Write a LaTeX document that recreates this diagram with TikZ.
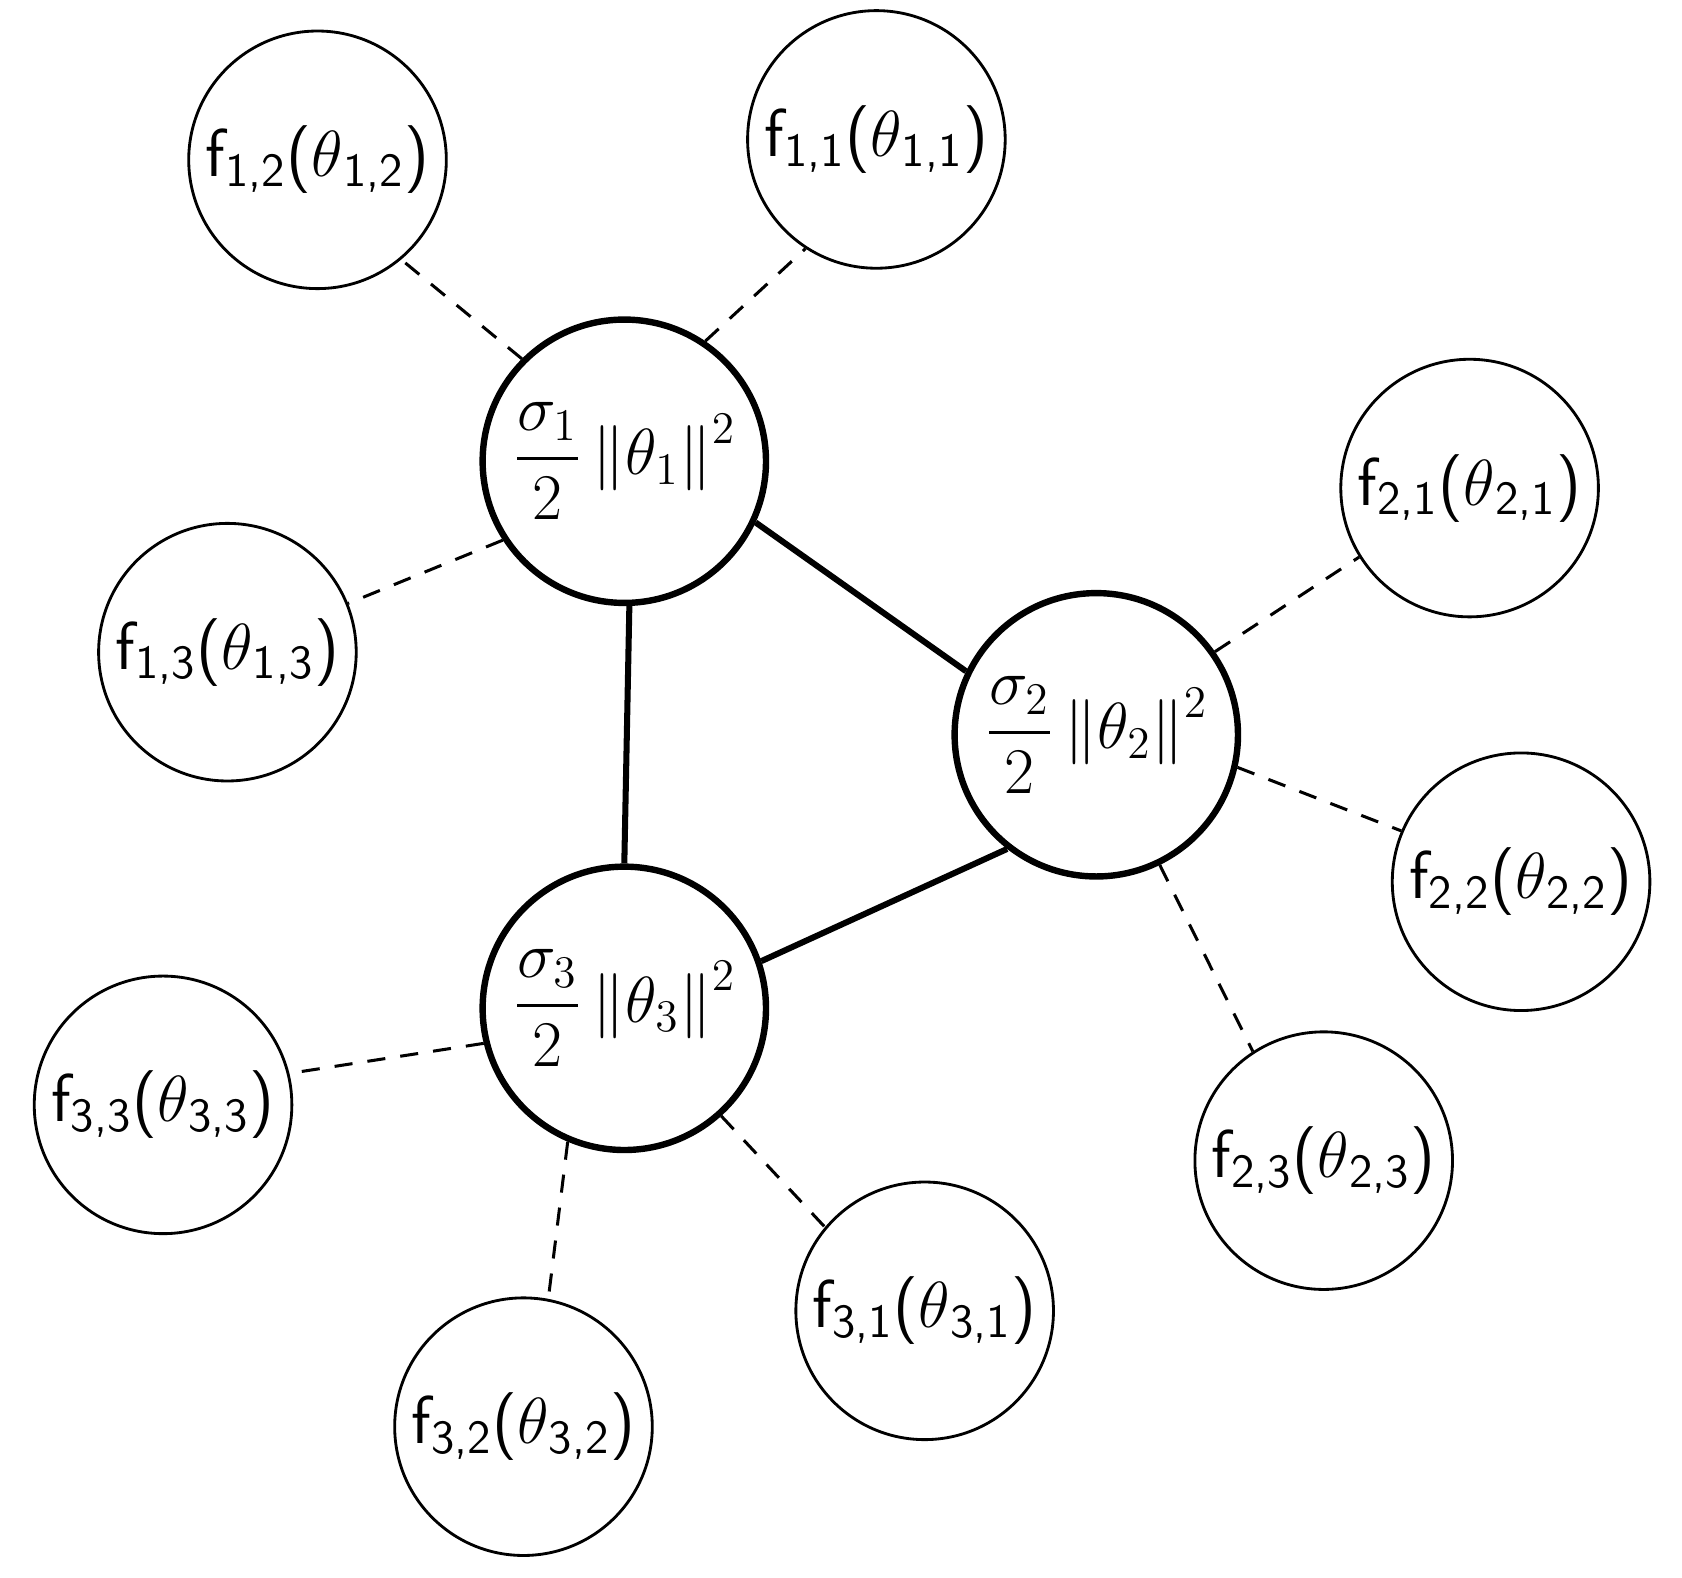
\documentclass[tikz,border=0pt]{standalone}
\usepackage{amsmath}
\begin{document}
\begin{tikzpicture}[x=0.01cm,y=-0.01cm,
  outer/.style={circle,draw,line width=0.75pt,minimum size=2.4cm,inner sep=0pt,font=\fontsize{18}{22}\selectfont\sffamily},
  hub/.style={circle,draw,line width=1.7pt,minimum size=2.64cm,inner sep=0pt,font=\fontsize{18}{22}\selectfont},
  tie/.style={line width=0.8pt,dash pattern=on 4.8pt off 4pt},
  link/.style={line width=1.6pt}]
\useasboundingbox (0,0) rectangle (1568,1471);
\node[hub] (C1) at (582,430) {$\displaystyle\frac{\sigma_1}{2}\left\|\theta_1\right\|^2$};
\node[hub] (C2) at (1022,685) {$\displaystyle\frac{\sigma_2}{2}\left\|\theta_2\right\|^2$};
\node[hub] (C3) at (582,940) {$\displaystyle\frac{\sigma_3}{2}\left\|\theta_3\right\|^2$};
\node[outer] (f12) at (296,149) {f\textsubscript{1,2}($\theta$\textsubscript{1,2})};
\node[outer] (f11) at (817,130) {f\textsubscript{1,1}($\theta$\textsubscript{1,1})};
\node[outer] (f13) at (212,608) {f\textsubscript{1,3}($\theta$\textsubscript{1,3})};
\node[outer] (f21) at (1370,455) {f\textsubscript{2,1}($\theta$\textsubscript{2,1})};
\node[outer] (f22) at (1418,822) {f\textsubscript{2,2}($\theta$\textsubscript{2,2})};
\node[outer] (f23) at (1234,1082) {f\textsubscript{2,3}($\theta$\textsubscript{2,3})};
\node[outer] (f33) at (152,1030) {f\textsubscript{3,3}($\theta$\textsubscript{3,3})};
\node[outer] (f32) at (488,1330) {f\textsubscript{3,2}($\theta$\textsubscript{3,2})};
\node[outer] (f31) at (862,1222) {f\textsubscript{3,1}($\theta$\textsubscript{3,1})};
\draw[link] (C1.-25) -- (C2.154);
\draw[link] (C1.-88) -- (C3.90);
\draw[link] (C2.232) -- (C3.19);
\draw[tie] (C1.135) -- (f12.-50);
\draw[tie] (C1.56) -- (f11.237);
\draw[tie] (C1.213) -- (f13.22);
\draw[tie] (C2.35) -- (f21.212);
\draw[tie] (C2.-13) -- (f22.157);
\draw[tie] (C2.-64) -- (f23.123);
\draw[tie] (C3.194) -- (f33.14);
\draw[tie] (C3.247) -- (f32.79);
\draw[tie] (C3.-48) -- (f31.140);
\end{tikzpicture}
\end{document}
